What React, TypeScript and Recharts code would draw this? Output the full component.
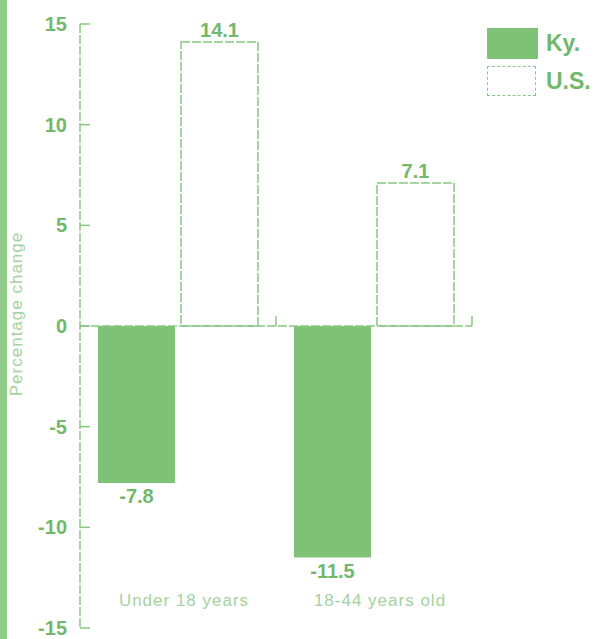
import { BarChart, Bar, XAxis, YAxis, ReferenceLine, LabelList, Legend } from 'recharts'

const groups = ['Under 18 years', '18-44 years old']
const kentucky = [-7.8, -11.5]
const unitedStates = [14.1, 7.1]
const yTicks = [-15, -10, -5, 0, 5, 10, 15]

const data = groups.map((group, i) => ({ group, ky: kentucky[i], us: unitedStates[i] }))

const GREEN = '#80c178'
const LINE = '#88c781'
const BOLD_TEXT = '#72b869'
const LIGHT_TEXT = '#a2d39b'
const DASH = '9 2'
const FONT = "'Liberation Sans', Arial, sans-serif"

const GroupTick = (props: any) => {
  const { x, y, payload } = props
  return (
    <text x={x + 6} y={y - 22} textAnchor="middle" fill={LIGHT_TEXT} fontFamily={FONT} fontSize={17} letterSpacing={1}>
      {payload.value}
    </text>
  )
}

const AxisTitle = (props: any) => {
  const { viewBox } = props
  const cx = 16
  const cy = viewBox.y + viewBox.height / 2 - 12
  return (
    <text x={cx} y={cy} transform={`rotate(-90, ${cx}, ${cy})`} textAnchor="middle" dominantBaseline="central"
      fill={LIGHT_TEXT} fontFamily={FONT} fontSize={17} letterSpacing={1}>
      Percentage change
    </text>
  )
}

const LegendBox = () => (
  <div style={{ fontFamily: FONT, fontWeight: 700, fontSize: 23, color: BOLD_TEXT }}>
    <div style={{ display: 'flex', alignItems: 'center', height: 32, marginBottom: 6 }}>
      <div style={{ width: 51, height: 31, background: GREEN }} />
      <span style={{ marginLeft: 8 }}>Ky.</span>
    </div>
    <div style={{ display: 'flex', alignItems: 'center', height: 32 }}>
      <div style={{ width: 47, height: 28, border: `1.5px dashed ${LINE}`, background: '#fff' }} />
      <span style={{ marginLeft: 10 }}>U.S.</span>
    </div>
  </div>
)

export default function App() {
  return (
    <div style={{ position: 'absolute', left: 0, top: 0, width: 594, height: 639, background: '#fff' }}>
      <div style={{ position: 'absolute', left: 0, top: 0, width: 7, height: 639, background: '#8dcb86' }} />
      <BarChart width={594} height={639} data={data} margin={{ top: 24, right: 122, bottom: 10, left: 0 }}
        barCategoryGap={18} barGap={6}>
        <XAxis dataKey="group" height={1} axisLine={false} tickLine={false} tickSize={0} tickMargin={0}
          tick={(p: any) => <GroupTick {...p} />} interval={0} />
        <YAxis width={80} domain={[-15, 15]} ticks={yTicks} interval={0} tickSize={-10} tickMargin={23}
          axisLine={{ stroke: LINE, strokeWidth: 1.5, strokeDasharray: DASH }}
          tickLine={{ stroke: LINE, strokeWidth: 1.5 }}
          tick={{ fill: BOLD_TEXT, fontSize: 20, fontWeight: 700, fontFamily: FONT }}
          label={{ content: <AxisTitle /> }} />
        <Legend verticalAlign="middle" align="center" content={<LegendBox />}
          wrapperStyle={{ position: 'absolute', top: 27, left: 487, width: 110 }} />
        <Bar dataKey="ky" name="Ky." fill={GREEN} isAnimationActive={false}>
          <LabelList dataKey="ky" position="top" offset={6} fill={BOLD_TEXT} fontSize={20} fontWeight={700} fontFamily={FONT} />
        </Bar>
        <Bar dataKey="us" name="U.S." fill="#fff" stroke={LINE} strokeWidth={1.5} strokeDasharray={DASH} isAnimationActive={false}>
          <LabelList dataKey="us" position="top" offset={5} fill={BOLD_TEXT} fontSize={20} fontWeight={700} fontFamily={FONT} />
        </Bar>
        <ReferenceLine y={0} stroke={LINE} strokeWidth={1.5} strokeDasharray={DASH} />
        {groups.map(g => (
          <ReferenceLine key={g} position="end" segment={[{ x: g, y: 0 }, { x: g, y: 0.5 }]} stroke={LINE} strokeWidth={1.5} />
        ))}
      </BarChart>
    </div>
  )
}
